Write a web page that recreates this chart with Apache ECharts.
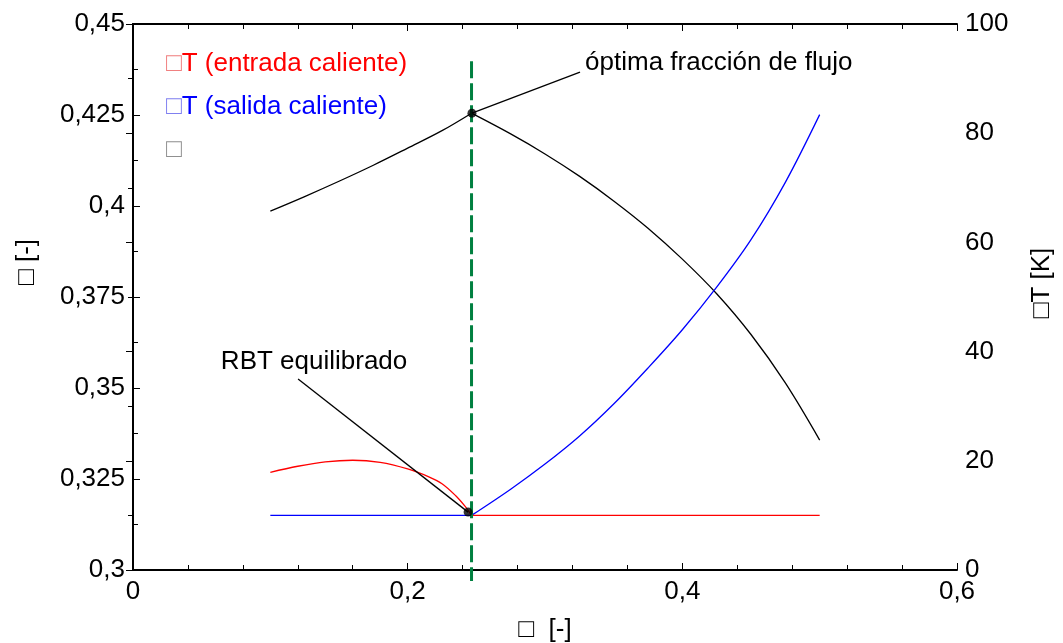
<!DOCTYPE html>
<html>
<head>
<meta charset="utf-8">
<script src="https://cdn.jsdelivr.net/npm/echarts@6/dist/echarts.min.js"></script>
<style>
    html, body {margin: 0; padding: 0; background: #fff;}
    #chart {width: 1063px; height: 643px;}
</style>
</head>
<body>
<div id="chart"></div>
<script>
// efficiency (left axis); index 6 is the optimum (peak)
const effX = [0.1, 0.125, 0.15, 0.175, 0.2, 0.225, 0.2465, 0.275, 0.3, 0.325, 0.35, 0.375, 0.4, 0.425, 0.45, 0.475, 0.5];
const effY = [0.3986, 0.4026, 0.4068, 0.4112, 0.4159, 0.4207, 0.4255, 0.4198, 0.4143, 0.4082, 0.4014, 0.3939, 0.3854, 0.3759, 0.3647, 0.3514, 0.3357];

// dT hot inlet (right axis); index 10 is where it joins the flat part
const dtInX = [0.1, 0.12, 0.14, 0.16, 0.18, 0.2, 0.215, 0.225, 0.235, 0.242, 0.2465, 0.3, 0.4, 0.5];
const dtInY = [17.9, 19.0, 19.8, 20.1, 19.7, 18.5, 17.1, 15.8, 13.6, 11.6, 10, 10, 10, 10];

// dT hot outlet (right axis); index 1 is where it starts rising
const dtOutX = [0.1, 0.2465, 0.275, 0.3, 0.325, 0.35, 0.375, 0.4, 0.425, 0.45, 0.475, 0.5];
const dtOutY = [10, 10, 14.8, 19.4, 24.5, 30.4, 37.0, 44.0, 51.8, 60.5, 71.0, 83.4];

// marked points and annotation anchors
const optPoint = [0.2468, 0.4255];
const optLabelPoint = [0.3255, 0.4368];
const rbtPoint = [0.244, 10.6];
const rbtLabelPoint = [0.1202, 35.0];
const optLineX = [0.2465, 0.2465];
const optLineY = [0.4398, 0.2970];

const xTickLabels = ['0', '0,2', '0,4', '0,6'];
const leftTickLabels = ['0,3', '0,325', '0,35', '0,375', '0,4', '0,425', '0,45'];
const rightTickLabels = ['0', '20', '40', '60', '80', '100'];

const nameIn = '□T (entrada caliente)';
const nameOut = '□T (salida caliente)';
const nameEff = '□';

const FONT = "'Liberation Sans', Arial, sans-serif";
const zip = (xs, ys) => xs.map((x, i) => [x, ys[i]]);
const part = (xs, ys, a, b) => zip(xs.slice(a, b), ys.slice(a, b));

const chart = echarts.init(document.getElementById('chart'));

const axisLine = {show: true, lineStyle: {color: '#000', width: 2}};
const axisTick = {show: true, inside: true, length: 7, lineStyle: {color: '#000', width: 1}};
const minor = (n) => ({show: true, splitNumber: n, length: 5, lineStyle: {color: '#000', width: 1}});
const tickFont = {color: '#000', fontSize: 26, fontFamily: FONT};

function curve(name, yAxisIndex, color, data) {
    return {
        name, type: 'line', yAxisIndex, showSymbol: false, smooth: 0.35, silent: true,
        lineStyle: {color, width: 1.3}, itemStyle: {color}, data,
    };
}

function leader(yAxisIndex, from, to, text, label) {
    return {
        type: 'line', yAxisIndex, silent: true, symbol: 'circle', symbolSize: 0.1, showSymbol: true,
        lineStyle: {color: '#000', width: 1.3}, itemStyle: {color: '#000'},
        data: [{value: from}, {
            value: to,
            label: Object.assign({show: true, formatter: text, ...tickFont}, label),
        }],
    };
}

chart.setOption({
    animation: false,
    textStyle: {fontFamily: FONT},
    grid: {left: 133, right: 106, top: 24, bottom: 73, outerBoundsMode: 'none'},
    legend: {
        orient: 'vertical',
        left: 156,
        top: 44,
        icon: 'none',
        itemWidth: 0,
        itemHeight: 14,
        itemGap: 13,
        selectedMode: false,
        data: [
            {name: nameIn, textStyle: {color: '#ff0000'}},
            {name: nameOut, textStyle: {color: '#0000ff'}},
            {name: nameEff, textStyle: {color: '#000'}},
        ],
        textStyle: {
            fontFamily: FONT, fontSize: 26, lineHeight: 30,
            rich: {
                r: {color: '#f08080', fontSize: 26, fontFamily: FONT},
                b: {color: '#8080f0', fontSize: 26, fontFamily: FONT},
                k: {color: '#909090', fontSize: 26, fontFamily: FONT},
            },
        },
        formatter: function (name) {
            const key = name === nameIn ? 'r' : name === nameOut ? 'b' : 'k';
            return '{' + key + '|□}' + name.slice(1);
        },
    },
    xAxis: [{
        type: 'value', min: 0, max: 0.6, interval: 0.2, position: 'bottom',
        axisLine, axisTick, minorTick: minor(5), splitLine: {show: false},
        axisLabel: {...tickFont, margin: 9, formatter: (v, i) => xTickLabels[i]},
        name: '□  [-]', nameLocation: 'middle', nameGap: 47,
        nameTextStyle: tickFont,
    }, {
        type: 'value', min: 0, max: 0.6, interval: 0.2, position: 'top',
        axisLine, axisTick, minorTick: minor(5), splitLine: {show: false},
        axisLabel: {show: false},
    }],
    yAxis: [{
        type: 'value', min: 0.3, max: 0.45, interval: 0.025, position: 'left',
        axisLine, axisTick, minorTick: minor(2), splitLine: {show: false},
        axisLabel: {...tickFont, margin: 8, formatter: (v, i) => leftTickLabels[i]},
        name: '□ [-]', nameLocation: 'middle', nameGap: 93,
        nameTextStyle: {...tickFont, padding: [0, 0, 0, 70]},
    }, {
        type: 'value', min: 0, max: 100, interval: 20, position: 'right',
        axisLine, axisTick, minorTick: minor(2), splitLine: {show: false},
        axisLabel: {...tickFont, margin: 8, formatter: (v, i) => rightTickLabels[i]},
        name: '□T [K]', nameLocation: 'middle', nameGap: 72,
        nameTextStyle: {...tickFont, padding: [0, 0, 0, 28]},
    }],
    series: [
        curve(nameEff, 0, '#000', part(effX, effY, 0, 7)),
        curve(nameEff, 0, '#000', part(effX, effY, 6)),
        curve(nameOut, 1, '#0000ff', part(dtOutX, dtOutY, 0, 2)),
        curve(nameOut, 1, '#0000ff', part(dtOutX, dtOutY, 1)),
        curve(nameIn, 1, '#ff0000', part(dtInX, dtInY, 0, 11)),
        curve(nameIn, 1, '#ff0000', part(dtInX, dtInY, 10)),
        {
            // optimum flow fraction marker line
            type: 'line', yAxisIndex: 0, showSymbol: false, clip: false, silent: true,
            lineStyle: {color: '#008040', width: 3, type: [17, 5]},
            data: zip(optLineX, optLineY),
        },
        leader(0, optPoint, optLabelPoint, 'óptima fracción de flujo',
            {position: 'right', distance: 5, offset: [0, -9]}),
        leader(1, rbtPoint, rbtLabelPoint, 'RBT equilibrado',
            {position: 'top', distance: 4, offset: [16, 0]}),
        {
            type: 'scatter', yAxisIndex: 0, symbolSize: 9, silent: true, z: 10,
            itemStyle: {color: '#000'}, data: [optPoint],
        },
        {
            type: 'scatter', yAxisIndex: 1, symbolSize: 9, silent: true, z: 10,
            itemStyle: {color: '#000'}, data: [rbtPoint],
        },
    ],
});
</script>
</body>
</html>
